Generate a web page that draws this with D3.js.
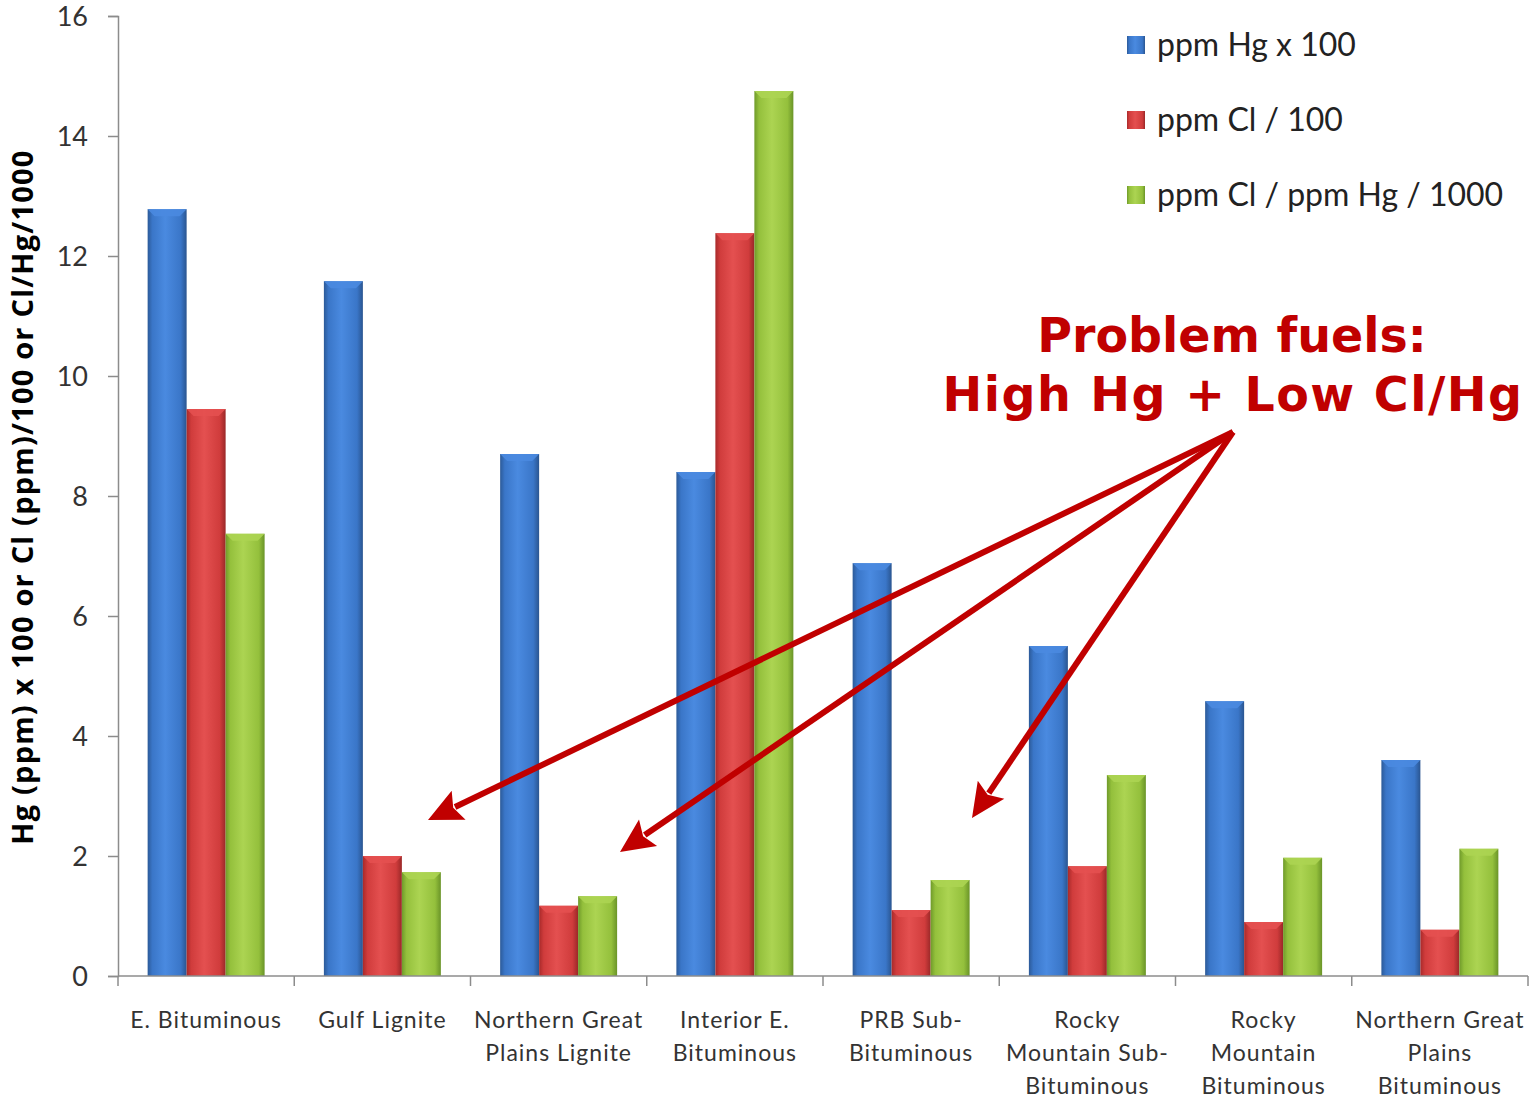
<!DOCTYPE html>
<html><head><meta charset="utf-8">
<script src="https://cdn.jsdelivr.net/npm/d3@7"></script>
<style>body{margin:0;background:#fff}svg{display:block}</style>
</head><body>
<script>
const categories = [
  ["E. Bituminous"],
  ["Gulf Lignite"],
  ["Northern Great","Plains Lignite"],
  ["Interior E.","Bituminous"],
  ["PRB Sub-","Bituminous"],
  ["Rocky","Mountain Sub-","Bituminous"],
  ["Rocky","Mountain","Bituminous"],
  ["Northern Great","Plains","Bituminous"]
];
const seriesNames = ["ppm Hg x 100","ppm Cl / 100","ppm Cl / ppm Hg / 1000"];
const hgValues   = [12.78, 11.58, 8.7, 8.4, 6.88, 5.5, 4.58, 3.6];
const clValues   = [9.45, 2.0, 1.17, 12.38, 1.1, 1.83, 0.9, 0.77];
const ratioValues= [7.37, 1.73, 1.33, 14.75, 1.6, 3.35, 1.97, 2.12];
const yTicks = [0,2,4,6,8,10,12,14,16];
const yTitle = "Hg (ppm) x 100 or Cl (ppm)/100 or Cl/Hg/1000";
const noteLines = ["Problem fuels:","High Hg + Low Cl/Hg"];
const arrowTargets = [[428,820],[620,852],[972,818]];

const W=1533,H=1100;
const svg=d3.select("body").append("svg").attr("width",W).attr("height",H);
const defs=svg.append("defs");
const palettes=[
  ["#2c5a98","#4a8ae0","#3a76c8","#2a5590"],
  ["#a82a2a","#e45050","#d03c3c","#9a2828"],
  ["#6f9a2a","#acd452","#94c03c","#6a9428"]
];
palettes.forEach((p,i)=>{
  const g=defs.append("linearGradient").attr("id","g"+i).attr("x1","0").attr("x2","1").attr("y1","0").attr("y2","0");
  g.append("stop").attr("offset","0").attr("stop-color",p[0]);
  g.append("stop").attr("offset","0.12").attr("stop-color",p[2]);
  g.append("stop").attr("offset","0.45").attr("stop-color",p[1]);
  g.append("stop").attr("offset","0.85").attr("stop-color",p[2]);
  g.append("stop").attr("offset","1").attr("stop-color",p[3]);
});

const x0=d3.scaleBand().domain(d3.range(categories.length)).range([118,1528]).paddingInner(0).paddingOuter(0);
const x1=d3.scaleBand().domain([0,1,2]).range([0,x0.bandwidth()]).paddingInner(0).paddingOuter(0.76);
const y=d3.scaleLinear().domain([0,16]).range([976,16]);

const font="Lato, 'Open Sans', sans-serif";

// y axis
const ya=svg.append("g").attr("transform","translate(118,0)")
  .call(d3.axisLeft(y).tickValues(yTicks).tickSize(10).tickPadding(20).tickFormat(d3.format("d")));
ya.select(".domain").attr("stroke","#8c8c8c").attr("stroke-width",1.5);
ya.selectAll(".tick line").attr("stroke","#8c8c8c").attr("stroke-width",1.5);
ya.selectAll("text").attr("font-family",font).attr("font-size",27).attr("fill","#333").attr("dy","0.35em");

// bars
const all=[hgValues,clValues,ratioValues];
const groups=svg.append("g").selectAll("g").data(categories).join("g")
  .attr("transform",(d,i)=>`translate(${x0(i)},0)`);
groups.each(function(_,ci){
  const g=d3.select(this);
  all.forEach((vals,si)=>{
    const v=vals[ci];
    g.append("rect").attr("x",x1(si)).attr("width",x1.bandwidth())
      .attr("y",y(v)).attr("height",y(0)-y(v)).attr("fill",`url(#g${si})`);
    const bx=x1(si),bw=x1.bandwidth(),by=y(v);
    g.append("path").attr("d",`M${bx},${by}L${bx+bw},${by}L${bx+bw-7},${by+7}L${bx+7},${by+7}Z`)
      .attr("fill",palettes[si][1]).attr("opacity",0.9);
  });
});

// x axis
const xa=svg.append("g").attr("transform","translate(0,976)");
xa.append("line").attr("x1",118).attr("x2",1528).attr("stroke","#8c8c8c").attr("stroke-width",1.5);
d3.range(categories.length+1).forEach(i=>{
  const xx= i<categories.length? x0(i): x0(i-1)+x0.bandwidth();
  xa.append("line").attr("x1",xx).attr("x2",xx).attr("y1",0).attr("y2",10).attr("stroke","#8c8c8c").attr("stroke-width",1.5);
});
categories.forEach((lines,i)=>{
  const t=svg.append("text").attr("x",x0(i)+x0.bandwidth()/2).attr("y",1028)
    .attr("text-anchor","middle").attr("font-family",font).attr("font-size",23).attr("letter-spacing",1).attr("fill","#333");
  lines.forEach((l,k)=>t.append("tspan").attr("x",x0(i)+x0.bandwidth()/2).attr("dy",k?33:0).text(l));
});

// y title
svg.append("text").attr("transform","translate(33,497) rotate(-90)").attr("text-anchor","middle")
  .attr("font-family","'Open Sans', 'DejaVu Sans', sans-serif").attr("font-weight","bold").attr("font-size",29)
  .attr("letter-spacing",1.2).attr("fill","#000").text(yTitle);

// legend
const lg=svg.append("g");
seriesNames.forEach((n,i)=>{
  const yy=45+i*75;
  lg.append("rect").attr("x",1127).attr("y",yy-9).attr("width",18).attr("height",18).attr("fill",`url(#g${i})`);
  lg.append("text").attr("x",1157).attr("y",yy).attr("dy","0.35em").attr("font-family",font).attr("font-size",32).attr("fill","#222").text(n);
});

// annotation
const red="#c00000";
svg.append("text").attr("x",1232).attr("y",352).attr("text-anchor","middle").attr("font-family","'DejaVu Sans', Verdana, sans-serif")
  .attr("font-weight","bold").attr("font-size",47.5).attr("fill",red).text(noteLines[0]);
svg.append("text").attr("x",1233).attr("y",411).attr("text-anchor","middle").attr("font-family","'DejaVu Sans', Verdana, sans-serif")
  .attr("font-weight","bold").attr("font-size",47.5).attr("letter-spacing",1.5).attr("fill",red).text(noteLines[1]);

const src=[1233,432];
arrowTargets.forEach(([tx,ty])=>{
  const dx=tx-src[0],dy=ty-src[1],L=Math.hypot(dx,dy),ux=dx/L,uy=dy/L;
  const hl=34,hw=16;
  const bx=tx-ux*hl,by=ty-uy*hl;
  svg.append("line").attr("x1",src[0]).attr("y1",src[1]).attr("x2",bx+ux*4).attr("y2",by+uy*4)
    .attr("stroke",red).attr("stroke-width",6);
  svg.append("path").attr("d",`M${tx},${ty}L${bx-uy*hw},${by+ux*hw}L${bx+ux*6},${by+uy*6}L${bx+uy*hw},${by-ux*hw}Z`).attr("fill",red);
});
</script>
</body></html>
